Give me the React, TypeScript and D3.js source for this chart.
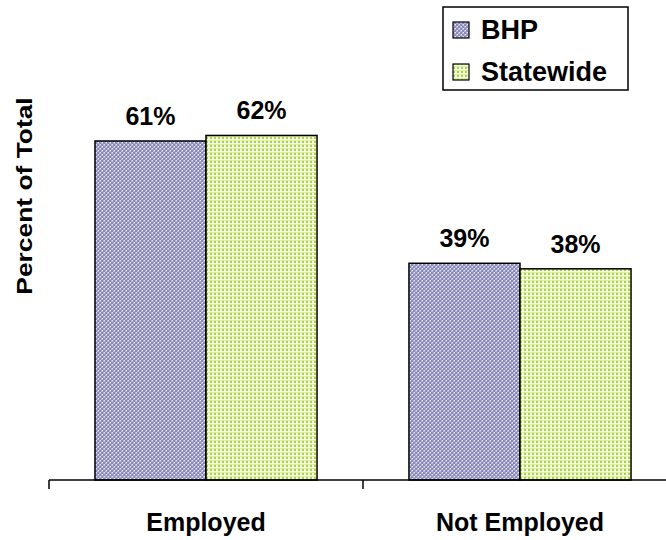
import React from "react";
import * as d3 from "d3";

const categories = ["Employed", "Not Employed"];
const seriesNames = ["BHP", "Statewide"];
const bhpValues = [61, 39];
const statewideValues = [62, 38];

const W = 666;
const H = 540;
const baseY = 480;

export default function App() {
  const x0 = d3.scaleBand<string>().domain(categories).range([49, 677]).paddingInner(0).paddingOuter(0);
  const x1 = d3.scaleBand<string>().domain(seriesNames).range([0, x0.bandwidth()]).paddingInner(0).paddingOuter(0.414);
  const y = d3.scaleLinear().domain([0, 70]).range([baseY, 91]);

  const rows = categories.map((c, i) => ({
    category: c,
    values: [
      { series: "BHP", value: bhpValues[i] },
      { series: "Statewide", value: statewideValues[i] },
    ],
  }));

  const fills: Record<string, string> = { BHP: "url(#patBhp)", Statewide: "url(#patState)" };
  const font = "'Liberation Sans', Arial, sans-serif";
  const ticks = [x0.range()[0], ...categories.map((c) => (x0(c) as number) + x0.bandwidth())];

  return (
    <svg width={W} height={H} style={{ position: "absolute", left: 0, top: 0, background: "#fff" }} fontFamily={font}>
      <defs>
        <pattern id="patBhp" width="4" height="4" patternUnits="userSpaceOnUse">
          <rect width="4" height="4" fill="#b4b4d6" />
          <rect x="0" y="0" width="2" height="2" fill="#8a8abb" />
          <rect x="2" y="2" width="2" height="2" fill="#8a8abb" />
          <rect x="3" y="0" width="1" height="1" fill="#ececf6" />
          <rect x="1" y="2" width="1" height="1" fill="#ececf6" />
        </pattern>
        <pattern id="patState" width="4" height="4" patternUnits="userSpaceOnUse">
          <rect width="4" height="4" fill="#f6fbe4" />
          <rect x="0" y="0" width="4" height="1" fill="#dcefa4" />
          <rect x="1" y="1" width="2" height="2" fill="#a9d23c" />
        </pattern>
      </defs>

      {rows.map((r) => (
        <g key={r.category} transform={`translate(${x0(r.category)},0)`}>
          {r.values.map((v) => (
            <g key={v.series}>
              <rect
                x={x1(v.series)}
                y={y(v.value)}
                width={x1.bandwidth()}
                height={baseY - y(v.value)}
                fill={fills[v.series]}
                stroke="#000"
                strokeWidth={1.5}
              />
              <text
                x={(x1(v.series) as number) + x1.bandwidth() / 2}
                y={y(v.value) - 16}
                textAnchor="middle"
                fontSize={25}
                fontWeight="bold"
              >
                {v.value}%
              </text>
            </g>
          ))}
          <text
            x={x0.bandwidth() / 2}
            y={531}
            textAnchor="middle"
            fontSize={25}
            fontWeight="bold"
          >
            {r.category}
          </text>
        </g>
      ))}

      {/* category axis */}
      <line x1={49} x2={W} y1={baseY} y2={baseY} stroke="#000" strokeWidth={1.5} />
      {ticks.map((t, i) => (
        <line key={i} x1={t} x2={t} y1={baseY} y2={baseY + 9} stroke="#000" strokeWidth={1.5} />
      ))}

      <text
        transform="translate(32,196) rotate(-90) scale(1.2,1)"
        textAnchor="middle"
        fontSize={22}
        fontWeight="bold"
      >
        Percent of Total
      </text>

      {/* legend */}
      <g>
        <rect x={443} y={7} width={185} height={83} fill="#fff" stroke="#000" strokeWidth={1.5} />
        {seriesNames.map((s, i) => (
          <g key={s} transform={`translate(0,${i * 42})`}>
            <rect x={453} y={22} width={16} height={16} fill={fills[s]} stroke="#000" strokeWidth={1.2} />
            <text x={481} y={39} fontSize={27} fontWeight="bold">
              {s}
            </text>
          </g>
        ))}
      </g>
    </svg>
  );
}
